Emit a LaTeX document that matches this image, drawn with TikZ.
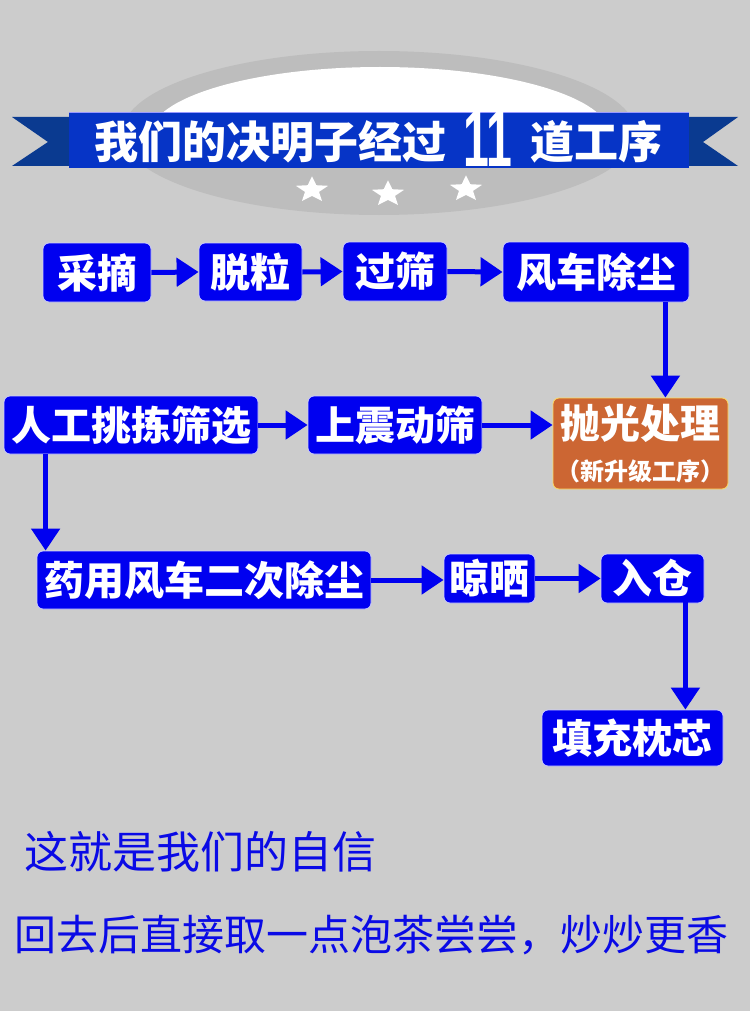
\documentclass[tikz,border=0pt]{standalone}
\usepackage{fontspec}
\newfontfamily\cjk{Noto Sans CJK SC}
\setmainfont{Liberation Sans}
\usetikzlibrary{arrows.meta,shapes.geometric,calc}
\definecolor{bg}{HTML}{CCCCCC}
\definecolor{ring}{HTML}{BDBDBD}
\definecolor{boxblue}{HTML}{0000F0}
\definecolor{ribbon}{HTML}{0634C6}
\definecolor{tail}{HTML}{0A3A90}
\definecolor{polish}{HTML}{CC6633}
\definecolor{txtblue}{HTML}{0A0AE6}
\tikzset{
  stepbox/.style={fill=boxblue, draw=blue!20, line width=0.8pt, rounded corners=6pt,
    text=white, inner sep=0pt, font=\cjk\bfseries\fontsize{40}{44}\selectfont},
  arr/.style={draw=boxblue, line width=5pt, -{Triangle[length=22pt,width=28pt]}},
  titletext/.style={text=white, inner sep=0pt, font=\cjk\bfseries\fontsize{44}{48}\selectfont},
  startxt/.style={star, star points=5, star point ratio=2.3, fill=white, inner sep=0pt, minimum size=34pt, yscale=0.8},
  bottomtext/.style={text=txtblue, inner sep=0pt, anchor=west},
}
\begin{document}
\begin{tikzpicture}[x=1pt,y=-1pt]
\fill[bg] (0,0) rectangle (750,1011);
\useasboundingbox (0,0) rectangle (750,1011);
% banner emblem
\fill[ring] (379,133) ellipse [x radius=257, y radius=82];
\begin{scope}
  \clip (0,0) rectangle (750,150);
  \fill[white] (380,135) ellipse [x radius=230, y radius=68];
\end{scope}
\fill[tail] (12,117) -- (80,117) -- (80,166) -- (12,166) -- (48,142) -- cycle;
\fill[tail] (738,117) -- (670,117) -- (670,166) -- (738,166) -- (703,142) -- cycle;
\fill[ribbon] (69,113) -- (689,113) -- (689,168) -- (69,168) -- cycle;
\draw[blue!40, line width=1pt] (69,113) -- (689,113);
\node[titletext] (t1) at (270.5,142) {我们的决明子经过};
\node[text=white, inner sep=0pt, font=\bfseries\fontsize{80}{84}\selectfont, xscale=0.58] (t2) at (488,139) {11};
\node[titletext] (t3) at (596,142) {道工序};
\node[startxt] (s1) at (312,190) {};
\node[startxt] (s2) at (388,194) {};
\node[startxt] (s3) at (466,189) {};
% process boxes
\node[stepbox, minimum width=108pt, minimum height=59pt] (cz) at (97,272.5) {采摘};
\node[stepbox, minimum width=103pt, minimum height=58pt] (tl) at (250.5,272) {脱粒};
\node[stepbox, minimum width=104pt, minimum height=59pt] (gs) at (395,271.5) {过筛};
\node[stepbox, minimum width=186pt, minimum height=60pt] (fc) at (596,272) {风车除尘};
\node[stepbox, minimum width=254pt, minimum height=58pt] (rg) at (131,425) {人工挑拣筛选};
\node[stepbox, minimum width=174pt, minimum height=58pt] (sz) at (395,425) {上震动筛};
\node[stepbox, fill=polish, draw=yellow!60!orange!60, minimum width=175pt, minimum height=91pt, align=center] (pg) at (640.5,443.5)
  {抛光处理\\[-2pt]{\fontsize{24}{28}\selectfont （新升级工序）}};
\node[stepbox, minimum width=334pt, minimum height=58pt] (yy) at (204,580) {药用风车二次除尘};
\node[stepbox, minimum width=91pt, minimum height=49pt] (ls) at (489.5,578.5) {晾晒};
\node[stepbox, minimum width=103pt, minimum height=49pt] (rc) at (652.5,578.5) {入仓};
\node[stepbox, minimum width=181pt, minimum height=56pt] (tc) at (632.5,738) {填充枕芯};
% connectors
\draw[arr] (cz.east) -- (tl.west);
\draw[arr] (tl.east) -- (gs.west);
\draw[arr] (gs.east) -- (fc.west);
\draw[arr] ([xshift=-24pt]fc.south east) -- ([xshift=-24pt]fc.south east |- pg.north);
\draw[arr] (rg.east) -- (sz.west);
\draw[arr] (sz.east) -- (sz.east -| pg.west);
\draw[arr] ([xshift=42pt]rg.south west) -- ([xshift=42pt]rg.south west |- yy.north);
\draw[arr] (yy.east) -- (yy.east -| ls.west);
\draw[arr] (ls.east) -- (rc.west);
\draw[arr] ([xshift=-19pt,yshift=6pt]rc.south east) -- ([xshift=-19pt]rc.south east |- tc.north);
% bottom text
\node[bottomtext, font=\cjk\fontsize{44}{48}\selectfont] (b1) at (24,852) {这就是我们的自信};
\node[bottomtext, font=\cjk\fontsize{42}{46}\selectfont] (b2) at (14,935) {回去后直接取一点泡茶尝尝，炒炒更香};
\end{tikzpicture}
\end{document}
